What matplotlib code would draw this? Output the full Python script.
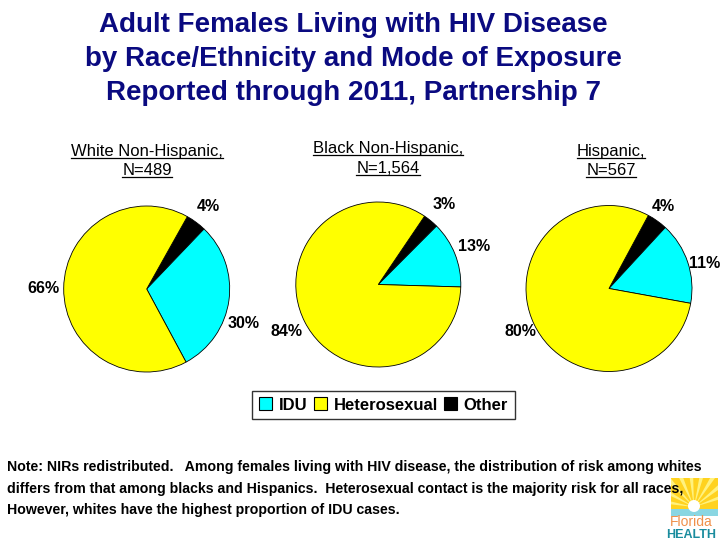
import numpy as np
import matplotlib.pyplot as plt
from matplotlib.patches import Patch, Rectangle, Circle, Polygon
from matplotlib.lines import Line2D

plt.rcParams['font.family'] = ['Liberation Sans', 'DejaVu Sans']

# ---------------- data ----------------
modes = ['IDU', 'Heterosexual', 'Other']
mode_colors = ['#00FFFF', '#FFFF00', '#000000']

groups = ['White Non-Hispanic,', 'Black Non-Hispanic,', 'Hispanic,']
group_n = ['N=489', 'N=1,564', 'N=567']

# wedge order on the pie: Other, IDU, Heterosexual (clockwise)
white_vals = [4, 30, 66]
black_vals = [3, 13, 84]
hisp_vals = [4, 16, 80]
white_labels = ['4%', '30%', '66%']
black_labels = ['3%', '13%', '84%']
hisp_labels = ['4%', '11%', '80%']

title = ('Adult Females Living with HIV Disease\n'
         'by Race/Ethnicity and Mode of Exposure\n'
         'Reported through 2011, Partnership 7')
note_lines = [
    'Note: NIRs redistributed.   Among females living with HIV disease, the distribution of risk among whites',
    'differs from that among blacks and Hispanics.  Heterosexual contact is the majority risk for all races,',
    'However, whites have the highest proportion of IDU cases.',
]

W, H = 720, 540
fig = plt.figure(figsize=(7.2, 5.4), dpi=100)

# overlay axes in pixel coordinates for text / logo
bg = fig.add_axes([0, 0, 1, 1])
bg.set_xlim(0, W)
bg.set_ylim(H, 0)
bg.axis('off')

bg.text(353, 59, title, ha='center', va='center', fontsize=20,
        fontweight='bold', color='#0a0a80', linespacing=1.42)

# ---------------- pies ----------------
# (values, labels, centre x, centre y, radius, start angle, label distance, label angle nudges)
pie_specs = [
    (white_vals, white_labels, 146.7, 289.0, 83.0, 60.7, 1.24, [0, -12, 0]),
    (black_vals, black_labels, 378.3, 284.5, 82.5, 55.9, 1.25, [0, 0, 0]),
    (hisp_vals, hisp_labels, 609.0, 288.5, 83.0, 61.7, 1.19, [2, -4, 0]),
]
order_colors = [mode_colors[2], mode_colors[0], mode_colors[1]]

for vals, labs, cx, cy, r, start, dist, nudges in pie_specs:
    half = 1.5 * r
    ax = fig.add_axes([(cx - half) / W, 1 - (cy + half) / H, 2 * half / W, 2 * half / H])
    wedges, _ = ax.pie(vals, colors=order_colors, startangle=start, counterclock=False,
                       wedgeprops={'edgecolor': 'black', 'linewidth': 0.6})
    ax.set_xlim(-1.5, 1.5)
    ax.set_ylim(-1.5, 1.5)
    ax.set_aspect('equal')
    for w, lab, nd in zip(wedges, labs, nudges):
        a = np.deg2rad((w.theta1 + w.theta2) / 2 + nd)
        ax.text(dist * np.cos(a), dist * np.sin(a), lab, ha='center', va='center',
                fontsize=11.5, fontweight='bold')

# ---------------- group titles (underlined) ----------------
sub_pos = [(147, 151, 170), (388, 148, 168), (611, 151, 170)]
fig.canvas.draw()
rend = fig.canvas.get_renderer()
for (name, n), (sx, y1, y2) in zip(zip(groups, group_n), sub_pos):
    for s, yy in ((name, y1), (n, y2)):
        t = bg.text(sx, yy + 5, s, ha='center', va='baseline', fontsize=12)
        bb = t.get_window_extent(rend)
        bg.add_line(Line2D([bb.x0, bb.x1], [yy + 7, yy + 7], color='black', lw=0.9))

# ---------------- legend ----------------
handles = [Patch(facecolor=c, edgecolor='black', linewidth=0.8) for c in mode_colors]
leg = fig.legend(handles, modes, loc='center', bbox_to_anchor=(383.5 / W, 1 - 405 / H),
                 ncol=3, frameon=True, fancybox=False, edgecolor='black',
                 prop={'weight': 'bold', 'size': 12}, handlelength=0.8, handleheight=0.8,
                 handletextpad=0.4, columnspacing=0.35, borderpad=0.4, borderaxespad=0)
leg.get_frame().set_linewidth(1.0)

# ---------------- note ----------------
for i, line in enumerate(note_lines):
    bg.text(7, 467 + 21.5 * i, line, ha='left', va='center', fontsize=10.2,
            fontweight='bold', zorder=3)

# ---------------- logo ----------------
box = Rectangle((671, 478), 47, 38, facecolor='#FFD21F', edgecolor='none', zorder=0)
bg.add_patch(box)
for ang in np.linspace(20, 170, 9):
    a = np.deg2rad(ang)
    ray = Polygon([[694, 507], [694 + 45 * np.cos(a - 0.06), 507 - 45 * np.sin(a - 0.06)],
                   [694 + 45 * np.cos(a + 0.06), 507 - 45 * np.sin(a + 0.06)]],
                  closed=True, facecolor='#FFF27F', edgecolor='none', zorder=0)
    bg.add_patch(ray)
    ray.set_clip_path(box)
bg.add_patch(Rectangle((671, 509), 47, 7, facecolor='#8AD6E2', edgecolor='none', zorder=0))
bg.add_patch(Circle((694, 506), 6, facecolor='white', edgecolor='none', zorder=0))
bg.text(691, 522, 'Florida', ha='center', va='center', fontsize=10, color='#F0904A', zorder=0)
bg.text(691, 534.5, 'HEALTH', ha='center', va='center', fontsize=9, fontweight='bold',
        color='#1A8C9E', zorder=0)

fig.savefig('out.png', dpi=100)
